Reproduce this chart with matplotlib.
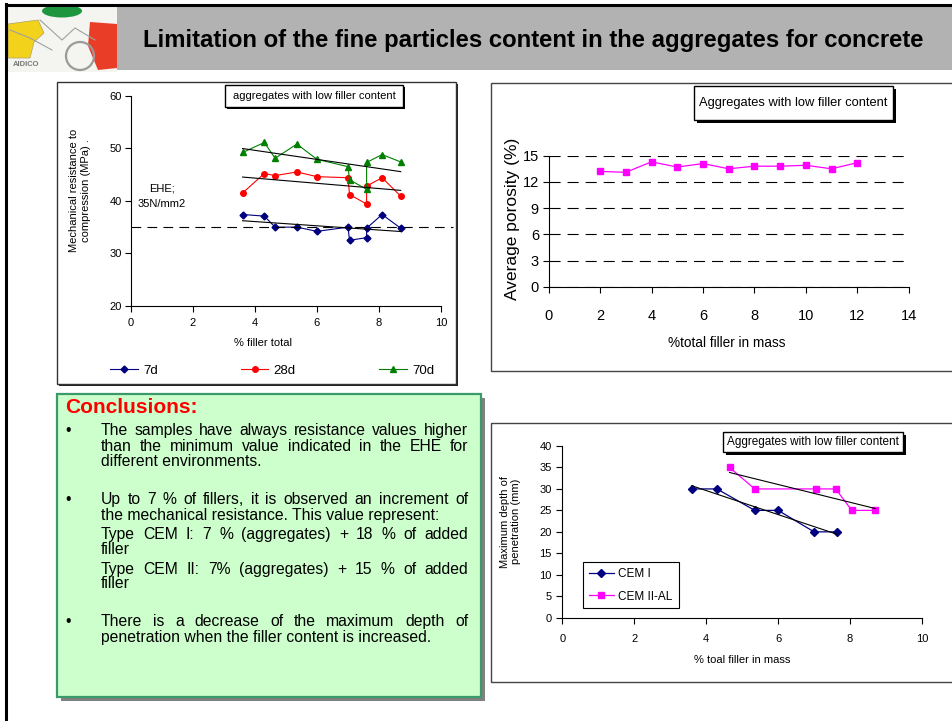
import numpy as np
import matplotlib.pyplot as plt
from matplotlib.patches import Rectangle, Polygon, Ellipse, Circle

plt.rcParams['font.family'] = ['Liberation Sans', 'DejaVu Sans']
plt.rcParams['lines.scale_dashes'] = False

# === data ===
# chart 1 : mechanical resistance vs % filler
x_filler = [3.6, 4.3, 4.65, 5.35, 6.0, 7.0, 7.05, 7.6, 7.6, 8.1, 8.7]
res_7d = [37.4, 37.1, 35.0, 35.0, 34.2, 35.0, 32.5, 33.0, 34.8, 37.4, 34.8]
res_28d = [41.5, 45.2, 44.8, 45.5, 44.6, 44.4, 41.2, 39.4, 42.8, 44.4, 40.9]
res_70d = [49.2, 51.1, 48.1, 50.8, 47.9, 46.5, 44.0, 42.2, 47.3, 48.8, 47.4]
ehe_limit = 35

# chart 2 : porosity
por_x = [2, 3, 4, 5, 6, 7, 8, 9, 10, 11, 12]
por_y = [13.2, 13.1, 14.3, 13.7, 14.1, 13.5, 13.8, 13.8, 13.9, 13.5, 14.2]

# chart 3 : penetration depth
cem1_x = [3.6, 4.3, 5.35, 6.0, 7.0, 7.65]
cem1_y = [30, 30, 25, 25, 20, 20]
cem2_x = [4.65, 5.35, 7.05, 7.6, 8.05, 8.7]
cem2_y = [35, 30, 30, 30, 25, 25]

title = "Limitation of the fine particles content in the aggregates for concrete"
box_title = "aggregates with low filler content"
box_title2 = "Aggregates with low filler content"

conc_lines = [
    ("The samples have always resistance values higher", 430, True),
    ("than the minimum value indicated in the EHE for", 445.7, True),
    ("different environments.", 460.7, False),
    ("Up to 7 % of fillers, it is observed an increment of", 499, True),
    ("the mechanical resistance. This value represent:", 515, False),
    ("Type CEM I: 7 % (aggregates) + 18 % of added", 534, True),
    ("filler", 548.7, False),
    ("Type CEM II: 7% (aggregates) + 15 % of added", 569, True),
    ("filler", 583, False),
    ("There is a decrease of the maximum depth of", 621, True),
    ("penetration when the filler content is increased.", 637, False),
]
bullet_y = [430, 499, 621]

# =========================================================
# FIGURE + background layer in pixel coords
# =========================================================
W, H = 953, 721
fig = plt.figure(figsize=(W / 100, H / 100), dpi=100)
fig.patch.set_facecolor('white')


def box(x0, y0, x1, y1):
    return [x0 / W, 1 - y1 / H, (x1 - x0) / W, (y1 - y0) / H]


bg = fig.add_axes([0, 0, 1, 1])
bg.set_xlim(0, W)
bg.set_ylim(H, 0)
bg.axis('off')


def rect(x0, y0, x1, y1, **kw):
    bg.add_patch(Rectangle((x0, y0), x1 - x0, y1 - y0, **kw))


def framed(x0, y0, x1, y1, sh=2, edge='#333333', lw=1.0, shadow='#222222'):
    rect(x0 + sh, y0 + sh, x1 + sh, y1 + sh, facecolor=shadow, edgecolor='none')
    rect(x0, y0, x1, y1, facecolor='white', edgecolor=edge, lw=lw)


# slide border + header
bg.plot([6.5, 6.5], [4, H], color='black', lw=2.2)
bg.plot([6, W], [4.5, 4.5], color='black', lw=2.2)
rect(117, 6.5, W, 69.5, facecolor='#B2B2B2', edgecolor='none')
bg.text(143, 41, title, fontsize=17.2, weight='bold', va='center', ha='left')

# logo (rough)
rect(8, 6.5, 117, 72, facecolor='#F4F4F0', edgecolor='none')
bg.add_patch(Polygon([(8, 24), (38, 20), (44, 33), (34, 42), (30, 58), (8, 58)],
                     facecolor='#F2D21A', edgecolor='#B0A060', lw=0.5))
bg.add_patch(Ellipse((62, 11), 40, 13, facecolor='#1E9640', edgecolor='none'))
bg.add_patch(Polygon([(90, 22), (117, 24), (117, 68), (98, 70), (88, 46)],
                     facecolor='#EA3D28', edgecolor='none'))
bg.add_patch(Circle((80, 56), 14, facecolor='none', edgecolor='#9A9A9A', lw=1.6))
bg.plot([40, 62, 75, 95], [20, 40, 28, 40], color='#A0A0A0', lw=0.8)
bg.plot([10, 30, 52], [30, 38, 50], color='#A0A0A0', lw=0.8)
bg.text(13, 64, "AIDICO", fontsize=5.5, weight='bold', color='#777777', va='center')

# chart frames
framed(57, 82, 456, 384, sh=2)
framed(491, 83, 960, 371, sh=1, edge='#444444')
framed(491, 423, 960, 682, sh=1, edge='#444444')

# title boxes inside charts
framed(225, 85, 403, 106.5, sh=2, edge='black', shadow='black')
bg.text(314, 96, box_title, fontsize=8, ha='center', va='center')
framed(694, 86, 893, 119.5, sh=3, edge='black', shadow='black')
bg.text(793, 103, box_title2, fontsize=9.3, ha='center', va='center')
framed(723, 432, 903, 451.5, sh=3, edge='black', shadow='black')
bg.text(813, 442, box_title2, fontsize=8.5, ha='center', va='center')

# =========================================================
# CHART 1 : mechanical resistance
# =========================================================
ax1 = fig.add_axes(box(131, 95.7, 441, 306))
ax1.set_facecolor('none')
series = [(res_7d, '#000080', 'D', 3.5, '7d'),
          (res_28d, '#FF0000', 'o', 4.0, '28d'),
          (res_70d, '#008000', '^', 4.5, '70d')]
for vals, col, mk, ms, lab in series:
    ax1.plot(x_filler, vals, color=col, marker=mk, ms=ms, lw=0.8, label=lab)
for vals, col, mk, ms, lab in series:
    coef = np.polyfit(x_filler, vals, 1)
    xs = np.array([min(x_filler), max(x_filler)])
    ax1.plot(xs, np.polyval(coef, xs), color='black', lw=0.8)
ax1.axhline(ehe_limit, xmin=0, xmax=1.04, color='black', lw=0.8,
            dashes=(7, 4.5), clip_on=False)
ax1.text(1.0, 40.9, "EHE;\n35N/mm2", fontsize=8, ha='center', va='center',
         linespacing=1.6)
ax1.set_xlim(0, 10)
ax1.set_ylim(20, 60)
ax1.set_xticks(range(0, 11, 2))
ax1.set_yticks(range(20, 61, 10))
for s in ['top', 'right']:
    ax1.spines[s].set_visible(False)
ax1.tick_params(direction='out', length=4, width=0.8, labelsize=8)
ax1.tick_params(axis='y', pad=2.5)
ax1.tick_params(axis='x', pad=4.5)
ax1.set_ylabel("Mechanical resistance to\ncompression (MPa) .", fontsize=8, va='center')
ax1.yaxis.set_label_coords(-0.165, 0.55)
ax1.set_xlabel("% filler total", fontsize=8, va='center')
ax1.xaxis.set_label_coords(0.426, -0.176)
ax1.legend(ncol=3, loc='center left', bbox_to_anchor=(-0.068, -0.309),
           frameon=False, fontsize=9.5, handlelength=2.1, handletextpad=0.4,
           columnspacing=6.3, borderpad=0, borderaxespad=0)

# =========================================================
# CHART 2 : porosity
# =========================================================
ax2 = fig.add_axes(box(548.7, 155.7, 908.7, 286.7))
ax2.set_facecolor('none')
ax2.plot(por_x, por_y, color='#FF00FF', marker='s', ms=5, lw=0.9, clip_on=False)
ax2.set_xlim(0, 14)
ax2.set_ylim(0, 15)
ax2.set_xticks(range(0, 15, 2))
ax2.set_yticks(range(0, 16, 3))
ax2.yaxis.grid(True, color='black', lw=0.8, dashes=(8, 5))
ax2.set_axisbelow(True)
for s in ['top', 'right']:
    ax2.spines[s].set_visible(False)
ax2.tick_params(direction='out', length=4, width=0.8, labelsize=10.5)
ax2.tick_params(axis='x', pad=12)
ax2.tick_params(axis='y', pad=3)
ax2.set_ylabel("Average porosity (%)", fontsize=12.5, va='center')
ax2.yaxis.set_label_coords((513 - 548.7) / 360, 1 - (219 - 155.7) / 131)
ax2.set_xlabel("%total filler in mass", fontsize=9.8, va='center')
ax2.xaxis.set_label_coords((727 - 548.7) / 360, -(343 - 286.7) / 131)

# =========================================================
# CHART 3 : penetration
# =========================================================
ax3 = fig.add_axes(box(562.3, 446, 922, 617.7))
ax3.set_facecolor('none')
ax3.plot(cem1_x, cem1_y, color='#000080', marker='D', ms=4, lw=0.9, label='CEM I')
ax3.plot(cem2_x, cem2_y, color='#FF00FF', marker='s', ms=5, lw=0.9, label='CEM II-AL')
for xx, yy in [(cem1_x, cem1_y), (cem2_x, cem2_y)]:
    coef = np.polyfit(xx, yy, 1)
    xs = np.array([min(xx), max(xx)])
    ax3.plot(xs, np.polyval(coef, xs), color='black', lw=0.8)
ax3.set_xlim(0, 10)
ax3.set_ylim(0, 40)
ax3.set_xticks(range(0, 11, 2))
ax3.set_yticks(range(0, 41, 5))
for s in ['top', 'right']:
    ax3.spines[s].set_visible(False)
ax3.tick_params(direction='out', length=4, width=0.8, labelsize=8)
ax3.tick_params(axis='x', pad=8)
ax3.tick_params(axis='y', pad=3.5)
ax3.set_ylabel("Maximum depth of\npenetration (mm)", fontsize=8, va='center')
ax3.yaxis.set_label_coords((510.5 - 562.3) / 359.7, 1 - (521.7 - 446) / 171.7)
ax3.set_xlabel("% toal filler in mass", fontsize=8, va='center')
ax3.xaxis.set_label_coords((741.7 - 562.3) / 359.7, -(660 - 617.7) / 171.7)
leg = ax3.legend(loc='upper left', bbox_to_anchor=(0.0575, 0.324), fontsize=8.5,
                 fancybox=False, edgecolor='black', framealpha=1,
                 handlelength=2.1, handletextpad=0.4, labelspacing=0.9,
                 borderpad=0.5, borderaxespad=0)
leg.get_frame().set_linewidth(0.8)

# =========================================================
# CONCLUSIONS box
# =========================================================
rect(61, 398, 485, 701, facecolor='#808080', edgecolor='none')
rect(57, 394, 481, 697, facecolor='#CCFFCC', edgecolor='#3A9A6A', lw=1.6)
bg.text(65, 407.5, "Conclusions:", fontsize=15, weight='bold', color='#FF0000',
        va='center', ha='left')

fs = 11.3
base = 5.2  # baseline offset from line centre (px)
tx0, tx1 = 101, 468.3
r = fig.canvas.get_renderer()
for by in bullet_y:
    bg.text(67.7, by + base, "\u2022", fontsize=fs, va='baseline', ha='center')
for txt, y, just in conc_lines:
    if not just:
        bg.text(tx0, y + base, txt, fontsize=fs, va='baseline', ha='left')
        continue
    words = txt.split(' ')
    objs = [bg.text(0, y + base, w, fontsize=fs, va='baseline', ha='left') for w in words]
    widths = [o.get_window_extent(renderer=r).width for o in objs]
    gap = (tx1 - tx0 - sum(widths)) / (len(words) - 1)
    x = tx0
    for o, w in zip(objs, widths):
        o.set_x(x)
        x += w + gap

fig.savefig("out.png", dpi=100)
